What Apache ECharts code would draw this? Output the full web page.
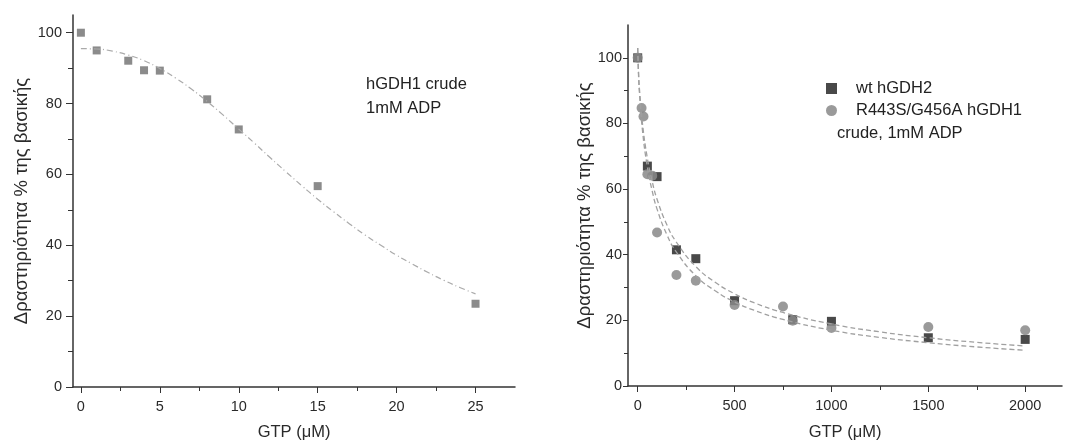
<!DOCTYPE html>
<html>
<head>
<meta charset="utf-8">
<script src="https://cdn.jsdelivr.net/npm/echarts@6/dist/echarts.min.js"></script>
<style>
  html, body { margin: 0; padding: 0; background: #fff; }
  #chart { width: 1067px; height: 446px; }
</style>
</head>
<body>
<div id="chart"></div>
<script>
// left panel: hGDH1 crude, 1mM ADP
const leftGtp = [0, 1, 3, 4, 5, 8, 10, 15, 25]
const leftActivity = [100, 95.0, 92.1, 89.4, 89.3, 81.2, 72.7, 56.7, 23.5]
// fitted curve
const leftFitGtp = [0, 1, 2, 3, 4, 5, 6, 7, 8, 9, 10, 11, 12, 13, 14, 15, 16, 17, 18, 19, 20, 21, 22, 23, 24, 25]
const leftFitActivity = [95.5, 95.4, 94.8, 93.7, 92.1, 89.9, 87.2, 84.1, 80.6, 76.8, 72.8, 68.8, 64.7, 60.7, 56.8, 53.0, 49.5, 46.1, 42.9, 40.0, 37.2, 34.7, 32.3, 30.1, 28.1, 26.3]

// right panel
const wtGtp = [0, 50, 100, 200, 300, 500, 800, 1000, 1500, 2000]
const wtActivity = [100, 67.0, 63.8, 41.5, 38.8, 26.0, 20.2, 19.7, 14.7, 14.2]
const mutGtp = [0, 20, 30, 50, 75, 100, 200, 300, 500, 750, 800, 1000, 1500, 2000]
const mutActivity = [100, 84.7, 82.1, 64.5, 64.1, 46.8, 33.8, 32.1, 24.7, 24.2, 19.9, 17.7, 18.0, 17.0]
const rightFitGtp = [0, 5, 10, 25, 50, 75, 100, 150, 200, 300, 400, 500, 600, 750, 1000, 1250, 1500, 1750, 2000]
const wtFitActivity = [103, 94.7, 89.8, 79.8, 69.4, 62.3, 56.9, 49.2, 43.8, 36.4, 31.6, 28.1, 25.4, 22.4, 18.9, 16.5, 14.7, 13.3, 12.2]
const mutFitActivity = [103, 93.8, 88.5, 77.7, 66.7, 59.4, 53.9, 46.2, 40.8, 33.6, 29.0, 25.6, 23.1, 20.3, 17.0, 14.8, 13.2, 11.9, 10.9]

// tick labels
const leftXLabels = [0, 5, 10, 15, 20, 25]
const leftXMinor = [2.5, 7.5, 12.5, 17.5, 22.5]
const rightXLabels = [0, 500, 1000, 1500, 2000]
const rightXMinor = [250, 750, 1250, 1750]
const yLabels = [0, 20, 40, 60, 80, 100]
const yMinor = [10, 30, 50, 70, 90]

const zip = (xs, ys) => xs.map((x, i) => [x, ys[i]])

const FONT = 'Liberation Sans'
const AXIS_COLOR = '#333'
const TEXT_COLOR = '#2a2a2a'
const yName = 'Δραστηριότητα % της βασικής'

function majorX (grid, min, max, labels, name, nameGap) {
  return {
    type: 'value', gridIndex: grid, min: min, max: max, position: 'bottom',
    name: name, nameLocation: 'middle', nameGap: nameGap,
    nameTextStyle: { fontFamily: FONT, fontSize: 16.5, color: TEXT_COLOR },
    axisLine: { show: true, onZero: false, lineStyle: { color: AXIS_COLOR, width: 1.5 } },
    axisTick: { show: true, length: 6, customValues: labels, lineStyle: { color: AXIS_COLOR } },
    axisLabel: { customValues: labels, margin: 12, fontFamily: FONT, fontSize: 14.5, color: TEXT_COLOR, formatter: v => String(v) },
    splitLine: { show: false }
  }
}
function minorX (grid, min, max, ticks) {
  return {
    type: 'value', gridIndex: grid, min: min, max: max, position: 'bottom',
    axisLine: { show: false, onZero: false },
    axisTick: { show: true, length: 4, customValues: ticks, lineStyle: { color: AXIS_COLOR } },
    axisLabel: { show: false },
    splitLine: { show: false }
  }
}
function majorY (grid, max, nameGap, tickLen, margin) {
  return {
    type: 'value', gridIndex: grid, min: 0, max: max, position: 'left',
    name: yName, nameLocation: 'middle', nameGap: nameGap,
    nameTextStyle: { fontFamily: FONT, fontSize: 18.5, color: TEXT_COLOR },
    axisLine: { show: true, onZero: false, lineStyle: { color: AXIS_COLOR, width: 1.5 } },
    axisTick: { show: true, length: tickLen, customValues: yLabels, lineStyle: { color: AXIS_COLOR } },
    axisLabel: { customValues: yLabels, margin: margin, fontFamily: FONT, fontSize: 14.5, color: TEXT_COLOR },
    splitLine: { show: false }
  }
}
function minorY (grid, max, tickLen) {
  return {
    type: 'value', gridIndex: grid, min: 0, max: max, position: 'left',
    axisLine: { show: false, onZero: false },
    axisTick: { show: true, length: tickLen, customValues: yMinor, lineStyle: { color: AXIS_COLOR } },
    axisLabel: { show: false },
    splitLine: { show: false }
  }
}

const chart = echarts.init(document.getElementById('chart'), null, { renderer: 'canvas' })
chart.setOption({
  backgroundColor: '#fff',
  animation: false,
  grid: [
    { left: 73, top: 15, width: 442, height: 372 },
    { left: 628, top: 25, width: 434, height: 366 }
  ],
  xAxis: [
    majorX(0, -0.5, 27.5, leftXLabels, 'GTP (μM)', 37),
    minorX(0, -0.5, 27.5, leftXMinor),
    majorX(1, -50, 2190, rightXLabels, 'GTP (μM)', 38),
    minorX(1, -50, 2190, rightXMinor)
  ],
  yAxis: [
    majorY(0, 105, 42, 7, 11),
    minorY(0, 105, 5),
    majorY(1, 110, 33, 5, 6),
    minorY(1, 110, 4)
  ],
  legend: {
    orient: 'vertical',
    left: 821,
    top: 75,
    itemWidth: 11,
    itemHeight: 11,
    itemGap: 5,
    data: [
      { name: 'wt hGDH2', icon: 'rect' },
      { name: 'R443S/G456A hGDH1', icon: 'circle' }
    ],
    textStyle: { fontFamily: FONT, fontSize: 16.5, color: '#222', padding: [0, 0, 0, 14] }
  },
  graphic: [
    { type: 'text', left: 366, top: 72, style: { text: 'hGDH1 crude\n1mM ADP', fontFamily: FONT, fontSize: 16.5, lineHeight: 24, fill: '#222' } },
    { type: 'text', left: 837, top: 125, style: { text: 'crude, 1mM ADP', fontFamily: FONT, fontSize: 16.5, fill: '#222' } }
  ],
  series: [
    {
      type: 'line', xAxisIndex: 0, yAxisIndex: 0, data: zip(leftFitGtp, leftFitActivity),
      smooth: true, showSymbol: false, silent: true,
      lineStyle: { color: '#aaa', width: 1.2, type: [6, 3, 1, 3] }
    },
    {
      type: 'scatter', xAxisIndex: 0, yAxisIndex: 0, data: zip(leftGtp, leftActivity),
      symbol: 'rect', symbolSize: 8, itemStyle: { color: '#6e6e6e' }
    },
    {
      type: 'line', xAxisIndex: 2, yAxisIndex: 2, data: zip(rightFitGtp, wtFitActivity),
      smooth: true, showSymbol: false, silent: true,
      lineStyle: { color: '#a0a0a0', width: 1.3, type: [5, 3] }
    },
    {
      type: 'line', xAxisIndex: 2, yAxisIndex: 2, data: zip(rightFitGtp, mutFitActivity),
      smooth: true, showSymbol: false, silent: true,
      lineStyle: { color: '#a0a0a0', width: 1.3, type: [5, 3] }
    },
    {
      name: 'wt hGDH2', type: 'scatter', xAxisIndex: 2, yAxisIndex: 2, data: zip(wtGtp, wtActivity),
      symbol: 'rect', symbolSize: 9, itemStyle: { color: '#1c1c1c' }
    },
    {
      name: 'R443S/G456A hGDH1', type: 'scatter', xAxisIndex: 2, yAxisIndex: 2, data: zip(mutGtp, mutActivity),
      symbol: 'circle', symbolSize: 10, itemStyle: { color: '#888', opacity: 0.85 }
    }
  ]
})
</script>
</body>
</html>
